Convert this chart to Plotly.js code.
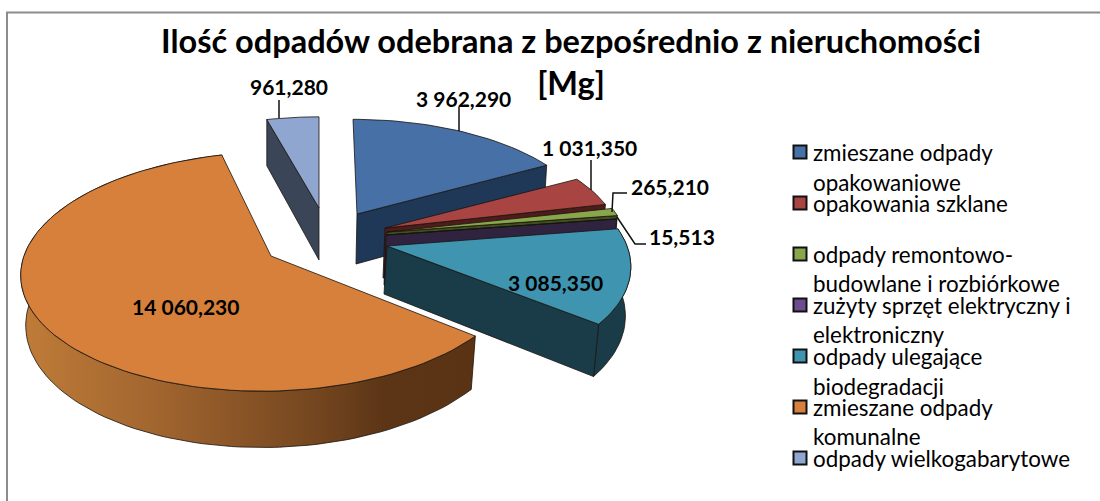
<!DOCTYPE html>
<html><head><meta charset="utf-8">
<script src="https://cdn.plot.ly/plotly-3.0.1.min.js"></script>
<style>html,body{margin:0;padding:0;background:#fff}#c{width:1100px;height:501px}</style>
</head><body><div id="c"></div>
<script>
var categories = ["zmieszane odpady<br>opakowaniowe","opakowania szklane","odpady remontowo-<br>budowlane i rozbiórkowe","zużyty sprzęt elektryczny i<br>elektroniczny","odpady ulegające<br>biodegradacji","zmieszane odpady<br>komunalne","odpady wielkogabarytowe"];
var values = [3962.290,1031.350,265.210,15.513,3085.350,14060.230,961.280];
var valueLabels = ["3 962,290","1 031,350","265,210","15,513","3 085,350","14 060,230","961,280"];

var topColors = ["#4770a6","#a84542","#89a64c","#6b4d8f","#3f94b0","#d6803b","#8fa6d0"];
var wallColors = ["#1f3857","#4f1c1c","#3f4f1f","#2f2340","#193c48","#5a3315","#3b4558"];
// projected geometry of each exploded slice: apex, radii, perspective, shear, depth
var geom = [
 {cx:357,cy:214,R:233,Rk:107,a:-4.5,p:.13,D:50,sh:-1,bs:.99,wall:"end"},
 {cx:385,cy:228,R:233,Rk:107,a:0,p:.13,D:50,sh:-2,bs:.99,wall:"end"},
 {cx:387,cy:232,R:238,Rk:107,a:0,p:.13,D:50,sh:-2,bs:.99,wall:"end"},
 {cx:386,cy:235,R:238,Rk:107,a:0,p:.13,D:50,sh:-2,bs:.99,wall:"end"},
 {cx:387,cy:246,R:240,Rk:115,a:-11.5,p:.13,D:48,sh:-3,bs:.99,wall:"end"},
 {cx:271,cy:256,R:247,Rk:117.6,a:8,p:.13,D:49,sh:0,bs:.98,wall:null},
 {cx:319,cy:208,R:230,Rk:103,a:0,p:.13,D:52,sh:0,bs:1,wall:"start"}
];
var labelPos = [[463,98],[589,147],[670,186],[682,236],[555,282],[185,306],[289,86]];
var leaders = [
 {x:[459,459],y:[107,131]},
 {x:[591,591],y:[160,190]},
 {x:[627,613,612],y:[193,193,212]},
 {x:[617,635,646],y:[217,244,244]},
 null,null,
 {x:[279,279],y:[100,118]}
];
var legendY = [[152,182],[203],[254,283],[305,334],[356,386],[407,436],[458]];

var total = values.reduce(function(s,v){return s+v;},0);
function pt(g,deg,bottom){
  var t=deg*Math.PI/180,u=Math.sin(t),v=Math.cos(t),d=1+g.p*v;
  var x=(g.R*u+g.a*v)/d, y=-g.Rk*v/d;
  if(!bottom) return [g.cx+x,g.cy+y];
  return [g.cx+g.sh+x*g.bs,g.cy+y+g.D/d];
}
function arc(g,a,b,bottom){
  var out=[],n=Math.max(2,Math.ceil((b-a)/2));
  for(var i=0;i<=n;i++) out.push(pt(g,a+(b-a)*i/n,bottom));
  return out;
}
function poly(points,fill,lineCol,grad){
  var tr={type:"scatter",mode:"lines",x:points.map(function(p){return p[0];}),y:points.map(function(p){return p[1];}),
    fill:"toself",fillcolor:fill,line:{color:lineCol,width:1},hoverinfo:"skip",showlegend:false};
  if(grad) tr.fillgradient=grad;
  return tr;
}
var traces=[],angles=[],acc=0;
values.forEach(function(v){var s=acc;acc+=v/total*360;angles.push([s,acc]);});
var order=[6,0,1,2,3,4,5];
order.forEach(function(i){
  var g=geom[i],a=angles[i][0],b=angles[i][1],edge="rgba(25,20,15,.8)";
  // outer rim: only slices reaching the viewer's half of the disc show one
  if(a<270 && b>90){
    var rim=arc(g,a,b,false).concat(arc(g,a,b,true).reverse());
    rim.push(rim[0]);
    var grad=null;
    if(i===5) grad={type:"horizontal",colorscale:[[0,"#c07c38"],[.3,"#a1652f"],[.65,"#74461f"],[.8,"#5c3516"],[1,"#5a3315"]]};
    traces.push(poly(rim,wallColors[i],edge,grad));
  }
  // visible radial wall
  if(g.wall){
    var ang=g.wall==="end"?b:a;
    var apexB=[g.cx+g.sh,g.cy+g.D];
    var w=[[g.cx,g.cy],pt(g,ang,false),pt(g,ang,true),apexB,[g.cx,g.cy]];
    traces.push(poly(w,wallColors[i],edge));
  }
  // top face
  var top=[[g.cx,g.cy]].concat(arc(g,a,b,false));
  top.push([g.cx,g.cy]);
  traces.push(poly(top,topColors[i],edge));
});
// leader lines
leaders.forEach(function(l){ if(l) traces.push({type:"scatter",mode:"lines",x:l.x,y:l.y,line:{color:"#111",width:1.5},hoverinfo:"skip",showlegend:false}); });
// legend swatches
traces.push({type:"scatter",mode:"markers",x:categories.map(function(){return 800;}),y:legendY.map(function(l){return l[0];}),
  marker:{symbol:"square",size:13,color:topColors,line:{color:"#111",width:2}},hoverinfo:"skip",showlegend:false});

var ann=[];
valueLabels.forEach(function(t,i){
  ann.push({x:labelPos[i][0],y:labelPos[i][1],xref:"x",yref:"y",text:t,showarrow:false,font:{family:"Lato, Carlito, sans-serif",size:21,color:"#000",weight:700},xanchor:"center",yanchor:"middle"});
});
categories.forEach(function(c,i){
  c.split("<br>").forEach(function(line,j){
    ann.push({x:811,y:legendY[i][j],xref:"x",yref:"y",text:line,showarrow:false,font:{family:"Lato, Carlito, sans-serif",size:22.4,color:"#000"},xanchor:"left",yanchor:"middle"});
  });
});

Plotly.newPlot("c",traces,{
  width:1100,height:501,margin:{l:0,r:0,t:0,b:0},paper_bgcolor:"#fff",plot_bgcolor:"#fff",showlegend:false,
  title:{text:"Ilość odpadów odebrana z bezpośrednio z nieruchomości<br>[Mg]",x:571/1100,xanchor:"center",y:1-53/501,yanchor:"top",font:{family:"Lato, Carlito, sans-serif",size:32.5,color:"#000",weight:700}},
  xaxis:{range:[0,1100],visible:false,fixedrange:true},
  yaxis:{range:[501,0],visible:false,fixedrange:true},
  shapes:[{type:"rect",xref:"x",yref:"y",x0:7,x1:1115,y0:12.5,y1:520,line:{color:"#8c8c8c",width:2},fillcolor:"rgba(0,0,0,0)",layer:"below"}],
  annotations:ann
},{displayModeBar:false,staticPlot:true});
</script></body></html>
